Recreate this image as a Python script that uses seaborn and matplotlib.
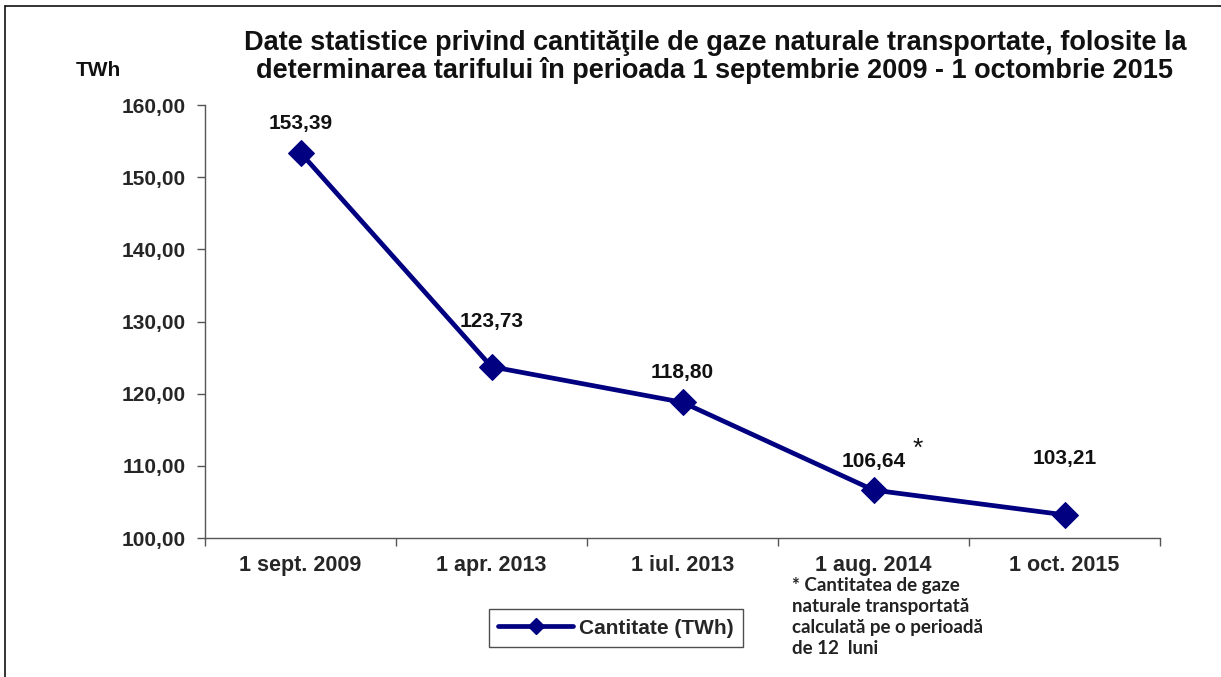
import matplotlib
matplotlib.use("Agg")
import matplotlib.pyplot as plt
import seaborn as sns
import pandas as pd
import numpy as np
from matplotlib.lines import Line2D
from matplotlib.ticker import FixedLocator

categories = ["1 sept. 2009", "1 apr. 2013", "1 iul. 2013", "1 aug. 2014", "1 oct. 2015"]
values = [153.39, 123.73, 118.80, 106.64, 103.21]
value_labels = ["153,39", "123,73", "118,80", "106,64", "103,21"]
yticks = [100, 110, 120, 130, 140, 150, 160]
ytick_labels = ["100,00", "110,00", "120,00", "130,00", "140,00", "150,00", "160,00"]
series_name = "Cantitate (TWh)"
title = ("Date statistice privind cantităţile de gaze naturale transportate, folosite la\n"
         "determinarea tarifului în perioada 1 septembrie 2009 - 1 octombrie 2015")
footnote = "* Cantitatea de gaze\nnaturale transportată\ncalculată pe o perioadă\nde 12  luni"

sns.set_theme(style="white")
plt.rcParams['font.family'] = ['Liberation Sans', 'DejaVu Sans']

color = "#000080"
fig = plt.figure(figsize=(12.21, 6.77), dpi=100)
ax = fig.add_axes([205/1221, 1 - 538/677, (1160-205)/1221, (538-105)/677])

df = pd.DataFrame({"pos": np.arange(len(categories)), "val": values})
sns.lineplot(data=df, x="pos", y="val", ax=ax, color=color, linewidth=3.4,
             marker="D", markersize=13, markeredgecolor=color, legend=False)

ax.set_xlim(-0.5, len(categories) - 0.5)
ax.set_ylim(100, 160)
ax.set_yticks(yticks)
ax.set_yticklabels(ytick_labels, fontsize=15, fontweight="bold")
ax.set_xticks(np.arange(len(categories)))
ax.set_xticklabels(categories, fontsize=15.5, fontweight="bold")
ax.xaxis.set_minor_locator(FixedLocator(np.arange(len(categories) + 1) - 0.5))
ax.tick_params(axis="x", which="major", length=0, pad=12)
ax.tick_params(axis="x", which="minor", length=6, width=1, color="#555555", direction="out", bottom=True)
ax.tick_params(axis="y", length=6, width=1, color="#555555", direction="out", left=True, pad=8)
ax.set_xlabel("")
ax.set_ylabel("")
for s in ["top", "right"]:
    ax.spines[s].set_visible(False)
for s in ["left", "bottom"]:
    ax.spines[s].set_color("#555555")
    ax.spines[s].set_linewidth(1)

offsets = [29, 45, 30, 29, 56]
for i, (v, lab) in enumerate(zip(values, value_labels)):
    ax.annotate(lab, (i, v), xytext=(0, offsets[i]), textcoords="offset pixels",
                ha="center", va="center", fontsize=15, fontweight="bold", color="#111111")
ax.annotate("*", (3, values[3]), xytext=(44, 41), textcoords="offset pixels",
            ha="center", va="center", fontsize=19, color="#111111")

fig.text(715/1221, 1 - 57/677, title, ha="center", va="center", fontsize=19.5,
         fontweight="bold", color="#111111", linespacing=1.07)
fig.text(98/1221, 1 - 70/677, "TWh", ha="center", va="center", fontsize=15,
         fontweight="bold", color="#111111")
fig.text(792/1221, 1 - 577/677, footnote, ha="left", va="top", fontsize=13.5,
         fontweight="bold", family=["Lato", "DejaVu Sans"], color="#222222", linespacing=1.28)

handle = Line2D([], [], color=color, linewidth=3.4, marker="D", markersize=8)
leg = fig.legend([handle], [series_name], loc="center", bbox_to_anchor=(616/1221, 1 - 628/677),
                 frameon=True, fancybox=False, edgecolor="#222222",
                 prop={"weight": "bold", "size": 15}, handlelength=3.6, borderpad=0.45,
                 handletextpad=0.3, borderaxespad=0)
leg.get_frame().set_linewidth(1)

fig.add_artist(Line2D([5/1221, 1], [1 - 6/677, 1 - 6/677], color="#111111", linewidth=1.2,
                      transform=fig.transFigure))
fig.add_artist(Line2D([5/1221, 5/1221], [0, 1 - 6/677], color="#111111", linewidth=1.2,
                      transform=fig.transFigure))

fig.savefig("out.png", dpi=100)
